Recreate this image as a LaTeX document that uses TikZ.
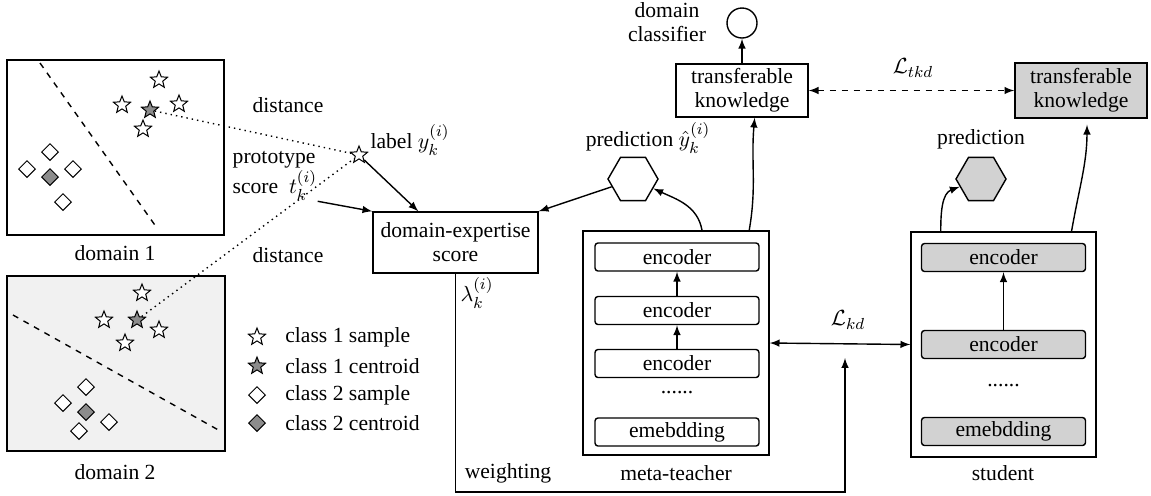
\documentclass[tikz,border=0pt]{standalone}
\usepackage{fontspec}
\setmainfont{Liberation Serif}
\usetikzlibrary{shapes.geometric}

\definecolor{lightfill}{RGB}{241,241,241}
\definecolor{studentfill}{RGB}{210,210,210}
\definecolor{centroidfill}{RGB}{140,140,140}

\tikzset{
  sstar/.style={star,star points=5,star point ratio=2.3,draw,fill=white,
    minimum size=9pt,inner sep=0pt,line width=0.5pt},
  cstar/.style={sstar,fill=centroidfill},
  sdiam/.style={diamond,draw,fill=white,minimum size=8.5pt,inner sep=0pt,
    line width=0.5pt},
  cdiam/.style={sdiam,fill=centroidfill},
  box/.style={draw,rectangle,align=center,inner sep=1pt},
  layer/.style={draw,rounded corners=1.5pt,minimum width=82pt,
    minimum height=14pt,inner sep=0pt},
  hexa/.style={draw,regular polygon,regular polygon sides=6,
    minimum size=25pt,inner sep=0pt},
}

\begin{document}
\begin{tikzpicture}[x=0.5pt,y=0.5pt,>=latex,line width=0.7pt,
    font=\fontsize{10.8pt}{12pt}\selectfont]
    \useasboundingbox (0,0) rectangle (1151,-495);

    % domain 1
    \draw (7,-60) rectangle (224,-235);
    \draw[dashed] (40,-63) -- (157,-228);
    \foreach \px/\py [count=\i] in {159/80,122/105,179/104,143/129}
      \node[sstar] (dsa\i) at (\px,-\py) {};
    \node[cstar] (c1) at (150,-110) {};
    \foreach \px/\py [count=\i] in {50/152,27/169,73/169,63/202}
      \node[sdiam] (dda\i) at (\px,-\py) {};
    \node[cdiam] (cd1) at (50,-177) {};
    \node (dom1) at (115,-253) {domain 1};

    % domain 2
    \draw[fill=lightfill] (7,-276) rectangle (225,-451);
    \draw[dashed] (13,-315) -- (222,-432);
    \foreach \px/\py [count=\i] in {142/293,104/320,159/330,125/343}
      \node[sstar] (dsb\i) at (\px,-\py) {};
    \node[cstar] (c2) at (137,-320) {};
    \foreach \px/\py [count=\i] in {86/387,63/403,109/422,79/431}
      \node[sdiam] (ddb\i) at (\px,-\py) {};
    \node[cdiam] (cd2) at (86,-412) {};
    \node (dom2) at (115,-472) {domain 2};

    % legend
    \node[sstar] (lg1) at (257,-337) {};
    \node[anchor=west] (lgt1) at (278,-337) {class 1 sample};
    \node[cstar] (lg2) at (257,-366) {};
    \node[anchor=west] (lgt2) at (278,-366) {class 1 centroid};
    \node[sdiam] (lg3) at (257,-395) {};
    \node[anchor=west] (lgt3) at (278,-395) {class 2 sample};
    \node[cdiam] (lg4) at (257,-423) {};
    \node[anchor=west] (lgt4) at (278,-423) {class 2 centroid};

    % prototype score
    \node[sstar] (lbl) at (359,-155) {};
    \draw[dotted] (c1) -- (lbl);
    \draw[dotted] (c2) -- (lbl);
    \node (dist1) at (288,-105) {distance};
    \node (dist2) at (288,-255) {distance};
    \node (lbltxt) at (410,-140) {label $y_k^{(i)}$};
    \node[anchor=west,align=left,inner sep=0pt] (proto) at (232,-176)
      {prototype\\score \ $t_k^{(i)}$};

    \node[box,minimum width=82.5pt,minimum height=30.5pt] (dex)
      at (455.5,-242.5) {domain-expertise\\score};
    \draw[->] (lbl) -- (dex.140);
    \draw[->] (proto.south east) -- (dex.north west);
    \node (lam) at (477,-293) {$\lambda_k^{(i)}$};

    % meta-teacher
    \node[box,minimum width=93pt,minimum height=112pt] (teacher)
      at (676,-343) {};
    \node[layer] (te1) at (677,-257) {encoder};
    \node[layer] (te2) at (677,-310.5) {encoder};
    \node[layer] (te3) at (677,-363.5) {encoder};
    \node (tdots) at (677,-393) {......};
    \node[layer] (temb) at (677,-432) {emebdding};
    \draw[->] (te3) -- (te2);
    \draw[->] (te2) -- (te1);
    \node (tlab) at (676,-473) {meta-teacher};

    \node[hexa] (tpred) at (633,-179) {};
    \node (tpredlab) at (648,-138) {prediction ${\hat{y}}_k^{(i)}$};
    \draw[->] (tpred.200) -- (dex.north east);
    \draw[->] (teacher.77) to[out=100,in=-25] (tpred);

    \node[box,minimum width=66pt,minimum height=26.5pt] (tkt)
      at (742,-90.5) {transferable\\knowledge};
    \node[circle,draw,minimum size=15pt,inner sep=0pt] (dclf) at (742,-23) {};
    \node[align=center] (dclflab) at (667,-22) {domain\\classifier};
    \draw[->] (tkt) -- (dclf);
    \draw[->] (teacher.57) to[out=80,in=-95] (tkt.-65);

    % student
    \node[box,minimum width=92.5pt,minimum height=112.5pt] (student)
      at (1003.5,-344.5) {};
    \node[layer,fill=studentfill] (se1) at (1003.5,-257.5) {encoder};
    \node[layer,fill=studentfill] (se2) at (1003.5,-344.5) {encoder};
    \node (sdots) at (1003.5,-386) {......};
    \node[layer,fill=studentfill] (semb) at (1003.5,-431.5) {emebdding};
    \draw[->] (se2) -- (se1);
    \node (slab) at (1003,-473) {student};

    \node[hexa,fill=studentfill] (spred) at (981,-179) {};
    \node (spredlab) at (981,-139) {prediction};
    \draw[->] (student.119) to[out=90,in=-160] (spred);

    \node[box,fill=studentfill,minimum width=66pt,minimum height=27.5pt] (tks)
      at (1081,-90.5) {transferable\\knowledge};
    \draw[->,shorten >=3pt] (student.59) to[out=80,in=-90] (tks.-78);

    % losses
    \draw[<->,dashed] (tkt) -- (tks);
    \node (ltkd) at (913,-68) {$\mathcal{L}_{tkd}$};
    \draw[<->] (teacher.east) -- (student.west);
    \node (lkd) at (848,-320) {$\mathcal{L}_{kd}$};

    % weighting
    \coordinate (wlow) at (845,-492);
    \coordinate (wtip) at (845,-358);
    \draw[->] (dex.south) |- (wlow) -- (wtip);
    \node (wgt) at (508,-473) {weighting};
\end{tikzpicture}
\end{document}
